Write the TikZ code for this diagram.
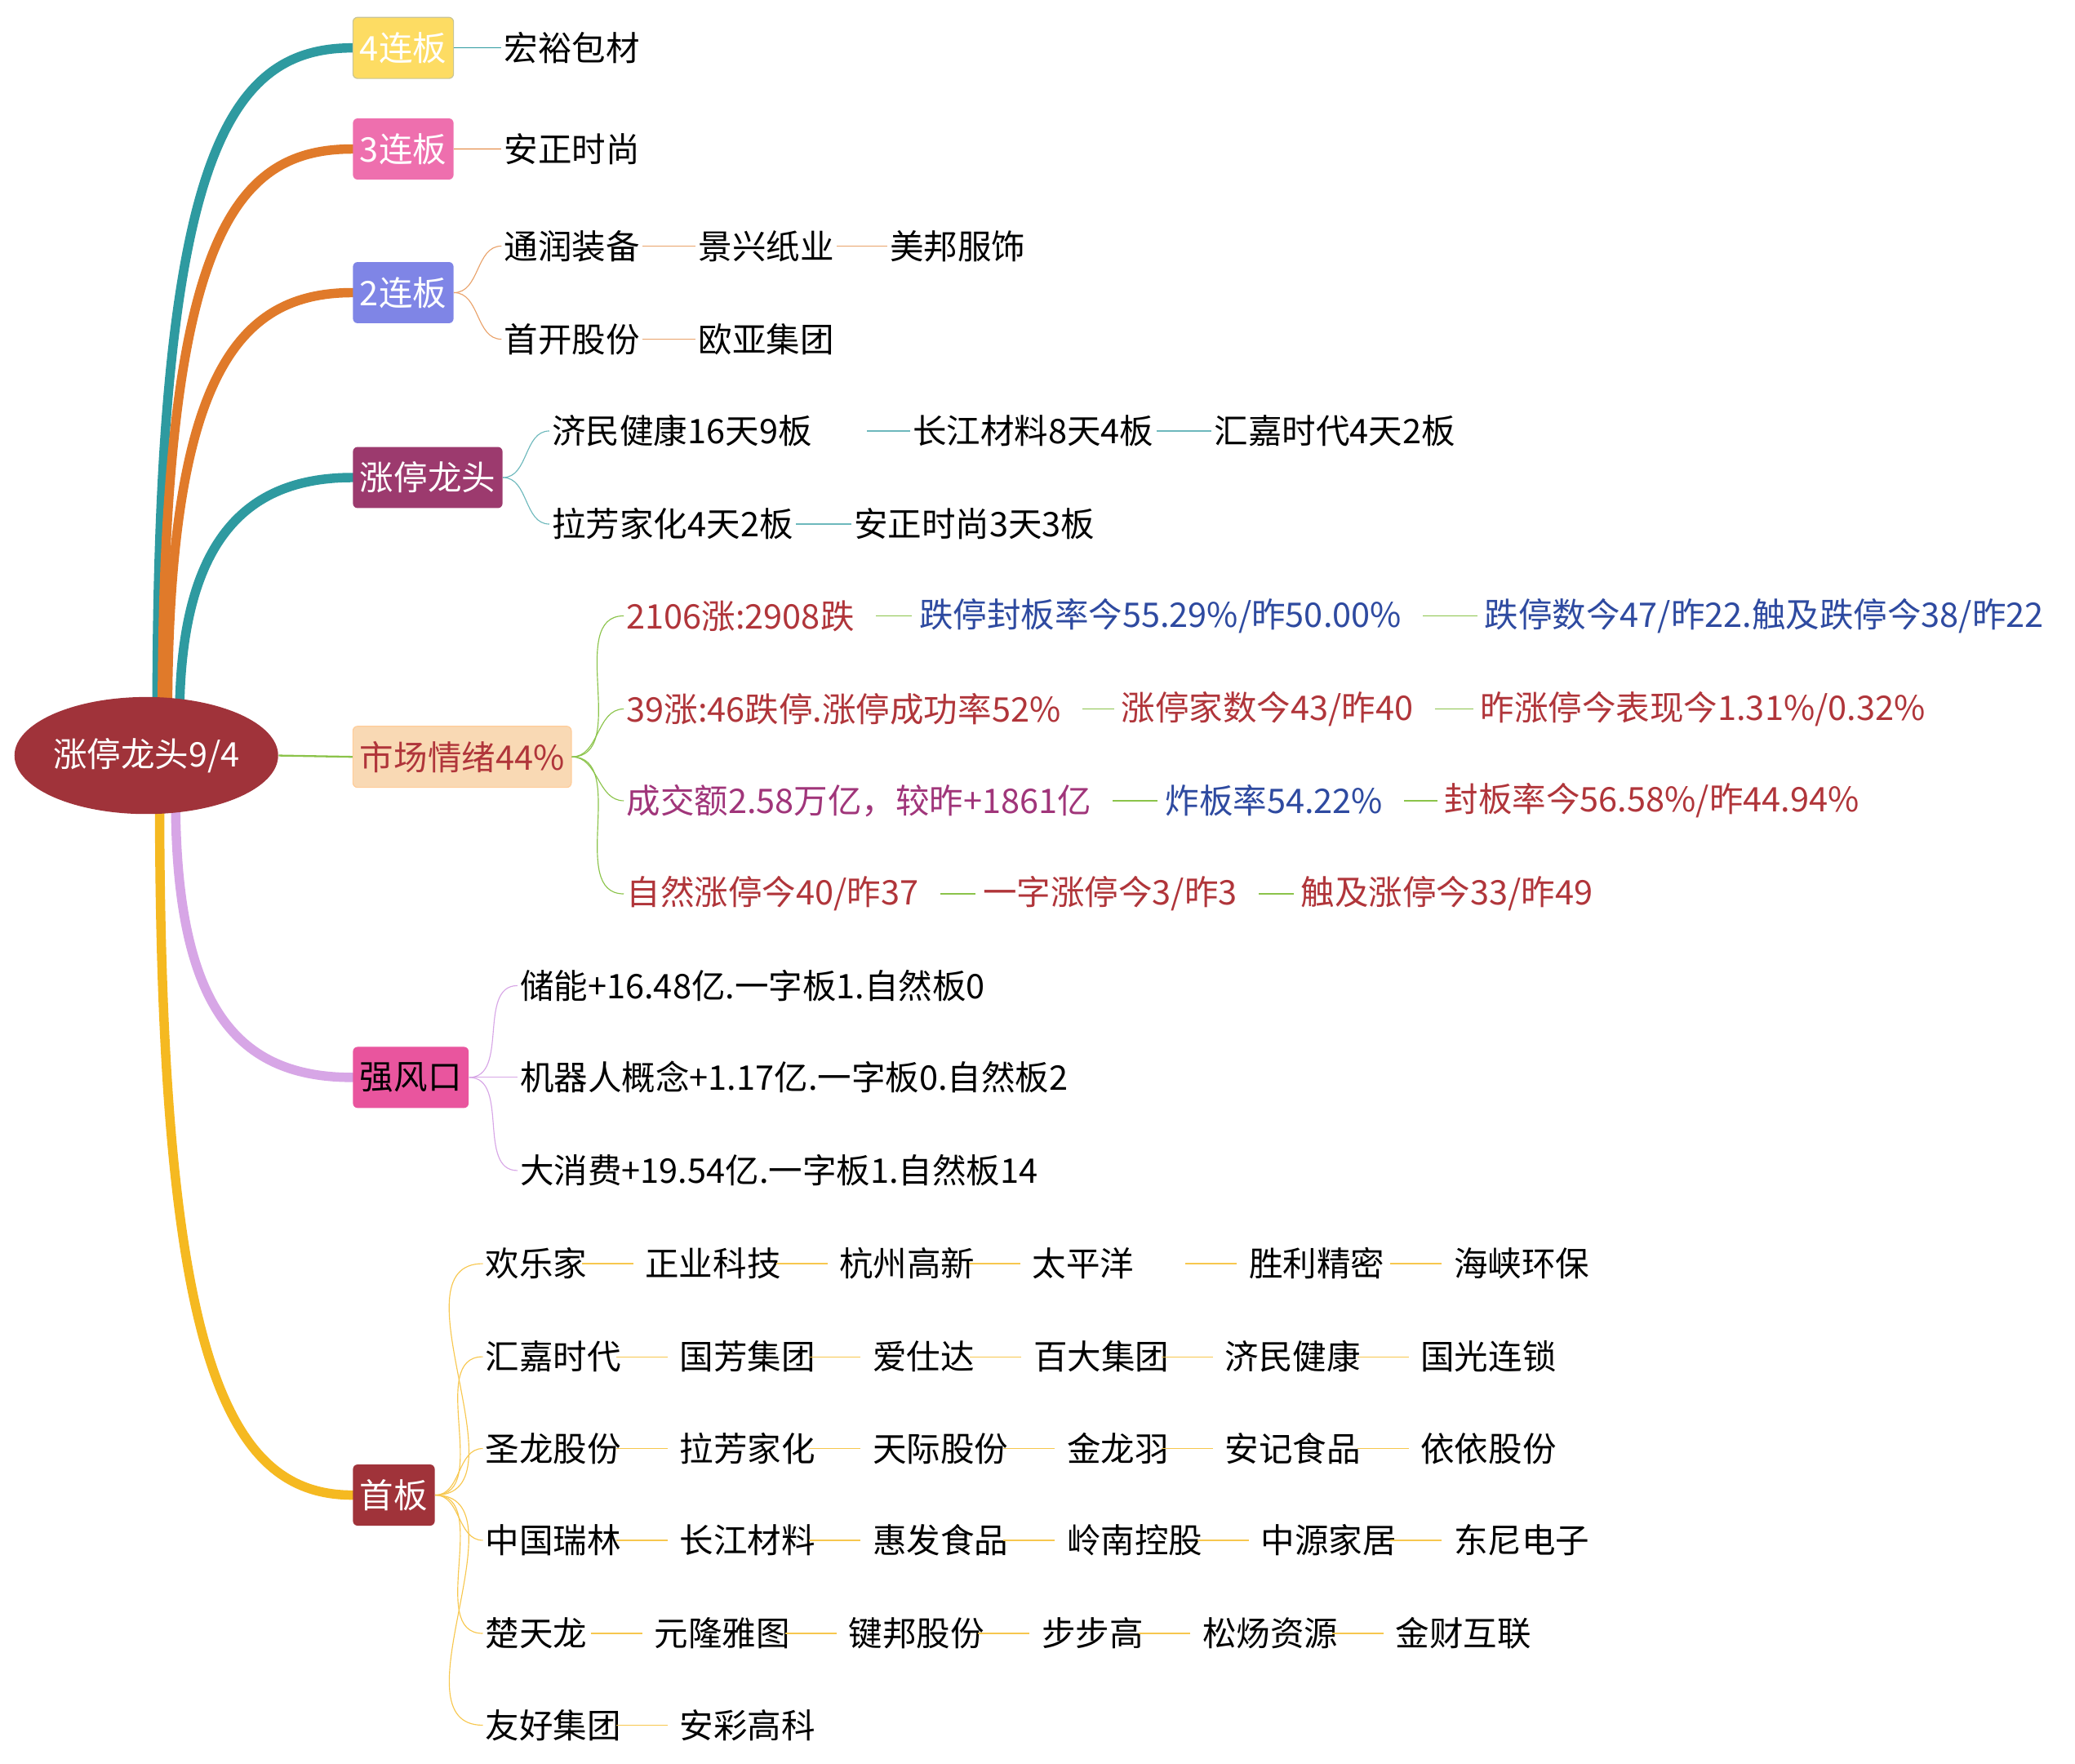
\documentclass[tikz,border=0pt]{standalone}
\usepackage{fontspec}
\usetikzlibrary{shapes.geometric}
\newfontfamily\cjk{Noto Sans CJK SC}
\definecolor{rootred}{HTML}{A0333A}
\definecolor{teal4}{HTML}{2E9AA0}
\definecolor{orng}{HTML}{E07A2A}
\definecolor{lav}{HTML}{D7A6E6}
\definecolor{gold}{HTML}{F5B921}
\definecolor{grn}{HTML}{8BC34A}
\definecolor{mred}{HTML}{B0353A}
\definecolor{mblue}{HTML}{2E4AA0}
\definecolor{mpur}{HTML}{A0357A}
\tikzset{
  tag/.style={rounded corners=2pt,inner sep=3pt,minimum height=0.92cm,text=white,font=\cjk\fontsize{14.5}{16}\selectfont},
  leaf/.style={anchor=west,inner sep=1pt,font=\cjk\fontsize{14.5}{16}\selectfont},
  trunk/.style={line width=4pt,line cap=round},
}
\begin{document}
\begin{tikzpicture}[x=0.02cm,y=-0.02cm]
\useasboundingbox (0,0) rectangle (1560,1326);
% branches from the root
\draw[trunk,teal4] (118,540) .. controls (118,120) and (170,36) .. (265,36);
\draw[trunk,orng] (122,540) .. controls (122,180) and (175,112) .. (265,112);
\draw[trunk,orng] (126,540) .. controls (126,280) and (180,220) .. (265,220);
\draw[trunk,teal4] (135,540) .. controls (135,400) and (190,359) .. (265,359);
\draw[trunk,lav] (132,600) .. controls (132,760) and (180,810) .. (265,810);
\draw[trunk,gold] (120,600) .. controls (120,1020) and (170,1124) .. (265,1124);
\node[ellipse,inner sep=0pt,fill=rootred,minimum width=3.9cm,minimum height=1.76cm,text=white,font=\cjk\fontsize{14.5}{16}\selectfont] (root) at (110,568) {涨停龙头9/4};
\node[tag,fill=yellow!60!orange!60,draw=yellow!50!black!50,anchor=west] (b4) at (265,36) {4连板};
\node[tag,fill={rgb,255:red,238;green,111;blue,174},anchor=west] (b3) at (265,112) {3连板};
\node[tag,fill={rgb,255:red,127;green,133;blue,230},anchor=west] (b2) at (265,220) {2连板};
\node[tag,fill={rgb,255:red,156;green,58;blue,110},anchor=west] (lt) at (265,359) {涨停龙头};
\node[tag,fill={rgb,255:red,249;green,217;blue,180},draw=orange!40,text=mred,anchor=west] (sc) at (265,569) {市场情绪44\%};
\node[tag,fill={rgb,255:red,233;green,85;blue,158},text=black,anchor=west] (fk) at (265,810) {强风口};
\node[tag,fill=rootred,anchor=west] (sb) at (265,1124) {首板};
\draw[grn,thick] (root.east) -- (sc.west);
% 4 / 3 lianban
\node[leaf] (hy) at (377,36) {宏裕包材};
\node[leaf] (az) at (377,112) {安正时尚};
\draw[teal4] (b4.east) -- (hy.west);
\draw[orng] (b3.east) -- (az.west);
% 2 lianban
\node[leaf] (tr) at (377,185) {通润装备};
\node[leaf] (jx) at (523,185) {景兴纸业};
\node[leaf] (mb) at (667,185) {美邦服饰};
\node[leaf] (sk) at (377,255) {首开股份};
\node[leaf] (oy) at (523,255) {欧亚集团};
\begin{scope}[orng!70]
\draw (b2.east) to[out=0,in=180] (tr.west);
\draw (b2.east) to[out=0,in=180] (sk.west);
\draw (tr) -- (jx); \draw (jx) -- (mb); \draw (sk) -- (oy);
\end{scope}
% longtou
\node[leaf] (jm) at (413,324) {济民健康16天9板};
\node[leaf] (cj) at (684,324) {长江材料8天4板};
\node[leaf] (hj) at (911,324) {汇嘉时代4天2板};
\node[leaf] (lf) at (413,394) {拉芳家化4天2板};
\node[leaf] (as) at (640,394) {安正时尚3天3板};
\begin{scope}[teal4!70]
\draw (lt.east) to[out=0,in=180] (jm.west);
\draw (lt.east) to[out=0,in=180] (lf.west);
\draw (652,324) -- (cj.west); \draw (cj) -- (hj); \draw (lf) -- (as);
\end{scope}
% market sentiment
\foreach \r/\y/\row in {
  1/463/{469/mred/{2106涨:2908跌},689/mblue/{跌停封板率今55.29\%/昨50.00\%},1114/mblue/{跌停数今47/昨22.触及跌停今38/昨22}},
  2/533/{469/mred/{39涨:46跌停.涨停成功率52\%},841/mred/{涨停家数今43/昨40},1111/mred/{昨涨停今表现今1.31\%/0.32\%}},
  3/602/{469/mpur/{成交额2.58万亿，较昨+1861亿},874/mblue/{炸板率54.22\%},1084/mred/{封板率今56.58\%/昨44.94\%}},
  4/672/{469/mred/{自然涨停今40/昨37},737/mred/{一字涨停今3/昨3},976/mred/{触及涨停今33/昨49}}}{
  \foreach \x/\c/\t [count=\i] in \row {
    \node[leaf,text=\c] (m\r-\i) at (\x,\y) {\t};
    \ifnum\i>1
      \pgfmathtruncatemacro\j{\i-1}
      \draw[grn] ([xshift=8pt]m\r-\j.east) -- ([xshift=-2pt]m\r-\i.west);
    \fi
  }
  \draw[grn] (sc.east) to[out=0,in=180] (m\r-1.west);
}
% fengkou
\foreach \r/\y/\t in {1/741/储能+16.48亿.一字板1.自然板0,2/810/机器人概念+1.17亿.一字板0.自然板2,3/880/大消费+19.54亿.一字板1.自然板14}{
  \node[leaf] (f\r) at (389,\y) {\t};
  \draw[lav] (fk.east) to[out=0,in=180] (f\r.west);
}
% shouban
\foreach \r/\y/\row in {
  1/950/{363/欢乐家,483/正业科技,629/杭州高新,774/太平洋,937/胜利精密,1091/海峡环保},
  2/1020/{363/汇嘉时代,509/国芳集团,654/爱仕达,775/百大集团,919/济民健康,1066/国光连锁},
  3/1089/{363/圣龙股份,509/拉芳家化,654/天际股份,800/金龙羽,919/安记食品,1066/依依股份},
  4/1158/{363/中国瑞林,509/长江材料,654/惠发食品,800/岭南控股,946/中源家居,1091/东尼电子},
  5/1228/{363/楚天龙,490/元隆雅图,636/键邦股份,781/步步高,902/松炀资源,1047/金财互联},
  6/1297/{363/友好集团,509/安彩高科}}{
  \foreach \x/\t [count=\i] in \row {
    \node[leaf] (s\r-\i) at (\x,\y) {\t};
    \ifnum\i>1
      \pgfmathtruncatemacro\j{\i-1}
      \draw[gold!80] ([xshift=-26pt]s\r-\i.west) -- ([xshift=-4pt]s\r-\i.west);
    \fi
  }
  \draw[gold!80] (sb.east) to[out=0,in=180] (s\r-1.west);
}
\end{tikzpicture}
\end{document}
